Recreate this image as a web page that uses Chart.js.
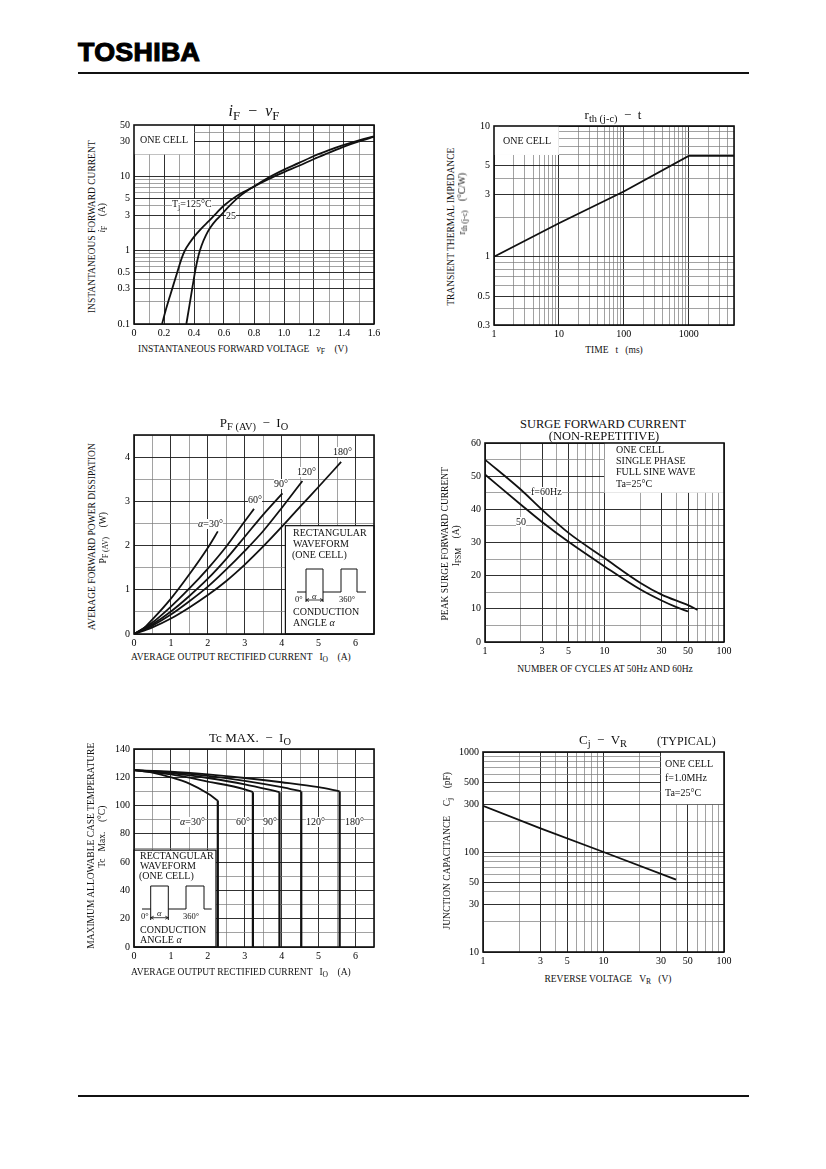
<!DOCTYPE html>
<html>
<head>
<meta charset="utf-8">
<script src="https://cdn.jsdelivr.net/npm/chart.js@4.4.0/dist/chart.umd.min.js"></script>
<style>
  body { margin: 0; background: #fff; }
  #page { position: relative; width: 826px; height: 1169px; overflow: hidden;
          font-family: "Liberation Serif", "DejaVu Serif", serif; color: #111; }
  canvas { position: absolute; }
  .t { position: absolute; white-space: nowrap; line-height: 1; font-size: 10px; z-index: 2; }
  .c { transform: translateX(-50%); }
  .rot { position: absolute; white-space: nowrap; line-height: 1; font-size: 9.5px; z-index: 2;
         transform: rotate(-90deg); transform-origin: 50% 50%; }
  .bg { background: #fff; }
  .ax { font-size: 9.5px; }
  sub { font-size: 0.8em; vertical-align: -0.3em; line-height: 0; }
  .logo { position: absolute; left: 78px; top: 39px; font-family: "Liberation Sans", Arial, sans-serif;
          font-weight: bold; font-size: 26px; line-height: 26px; letter-spacing: 0.3px;
          -webkit-text-stroke: 1.1px #000;
          transform: scaleX(1.03); transform-origin: left top; color: #000; }
  .rule { position: absolute; left: 78px; width: 671px; height: 1.5px; background: #111; }
  #deco { position: absolute; left: 0; top: 0; z-index: 3; }
</style>
</head>
<body>
<div id="page">
  <div class="logo">TOSHIBA</div>
  <div class="rule" style="top:72px"></div>
  <div class="rule" style="top:1095px"></div>

  <canvas id="ifChart"></canvas>
  <canvas id="rthChart"></canvas>
  <canvas id="pfChart"></canvas>
  <canvas id="surgeChart"></canvas>
  <canvas id="tcChart"></canvas>
  <canvas id="cjChart"></canvas>

  <!-- iF - vF -->
  <div class="t c" style="left:254px;top:103px;font-size:16px"><i>i</i><sub>F</sub> &nbsp;−&nbsp; <i>v</i><sub>F</sub></div>
  <div class="t" style="left:140px;top:135px">ONE CELL</div>
  <div class="t bg" style="left:172px;top:199px">T<sub>j</sub>=125°C</div>
  <div class="t bg" style="left:226px;top:211px">25</div>
  <div class="rot" data-cx="92" data-cy="226">INSTANTANEOUS FORWARD CURRENT</div>
  <div class="rot" data-cx="103" data-cy="218"><i>i</i><sub>F</sub> &nbsp;&nbsp;&nbsp;(A)</div>
  <div class="t ax" style="left:138px;top:345px">INSTANTANEOUS FORWARD VOLTAGE &nbsp;&nbsp;<i>v</i><sub>F</sub> &nbsp;&nbsp;&nbsp;(V)</div>

  <!-- rth - t -->
  <div class="t c" style="left:613px;top:108px;font-size:13px">r<sub>th (j-c)</sub> &nbsp;−&nbsp; t</div>
  <div class="t" style="left:503px;top:136px">ONE CELL</div>
  <div class="rot" data-cx="452" data-cy="227">TRANSIENT THERMAL IMPEDANCE</div>
  <div class="rot" data-cx="463" data-cy="204">r<sub>th (j-c)</sub> &nbsp;&nbsp;&nbsp;(°C/W)</div>
  <div class="t ax c" style="left:614px;top:346px">TIME &nbsp;&nbsp;t &nbsp;&nbsp;(ms)</div>

  <!-- PF(AV) - IO -->
  <div class="t c" style="left:254px;top:416px;font-size:13px">P<sub>F (AV)</sub> &nbsp;−&nbsp; I<sub>O</sub></div>
  <div class="t bg" style="left:198px;top:519px"><i>α</i>=30°</div>
  <div class="t bg" style="left:248px;top:495px">60°</div>
  <div class="t bg" style="left:274px;top:479px">90°</div>
  <div class="t bg" style="left:297px;top:467px">120°</div>
  <div class="t bg" style="left:333px;top:447px">180°</div>
  <div class="t" style="left:293px;top:528px">RECTANGULAR</div>
  <div class="t" style="left:293px;top:539px">WAVEFORM</div>
  <div class="t" style="left:292px;top:550px">(ONE CELL)</div>
  <div class="t" style="left:295px;top:595px;font-size:8.5px">0°</div>
  <div class="t" style="left:312px;top:592px;font-size:8.5px"><i>α</i></div>
  <div class="t" style="left:339px;top:595px;font-size:8.5px">360°</div>
  <div class="t" style="left:293px;top:607px">CONDUCTION</div>
  <div class="t" style="left:293px;top:618px">ANGLE <i>α</i></div>
  <div class="rot" data-cx="92" data-cy="536">AVERAGE FORWARD POWER DISSIPATION</div>
  <div class="rot" data-cx="103" data-cy="537">P<sub>F (AV)</sub> &nbsp;&nbsp;&nbsp;(W)</div>
  <div class="t ax" style="left:131px;top:653px">AVERAGE OUTPUT RECTIFIED CURRENT &nbsp;&nbsp;I<sub>O</sub> &nbsp;&nbsp;&nbsp;(A)</div>

  <!-- Surge -->
  <div class="t c" style="left:603px;top:418px;font-size:12.5px">SURGE FORWARD CURRENT</div>
  <div class="t c" style="left:604px;top:430px;font-size:12.5px">(NON-REPETITIVE)</div>
  <div class="t" style="left:616px;top:445px">ONE CELL</div>
  <div class="t" style="left:616px;top:456px">SINGLE PHASE</div>
  <div class="t" style="left:616px;top:467px">FULL SINE WAVE</div>
  <div class="t" style="left:616px;top:479px">Ta=25°C</div>
  <div class="t bg" style="left:531px;top:487px">f=60Hz</div>
  <div class="t bg" style="left:516px;top:517px">50</div>
  <div class="rot" data-cx="445" data-cy="543">PEAK SURGE FORWARD CURRENT</div>
  <div class="rot" data-cx="456" data-cy="545">I<sub>FSM</sub> &nbsp;&nbsp;&nbsp;(A)</div>
  <div class="t ax c" style="left:605px;top:665px">NUMBER OF CYCLES AT 50Hz AND 60Hz</div>

  <!-- Tc MAX - IO -->
  <div class="t c" style="left:250px;top:731px;font-size:13px">Tc MAX. &nbsp;−&nbsp; I<sub>O</sub></div>
  <div class="t bg" style="left:180px;top:817px"><i>α</i>=30°</div>
  <div class="t bg" style="left:236px;top:817px">60°</div>
  <div class="t bg" style="left:263px;top:817px">90°</div>
  <div class="t bg" style="left:306px;top:817px">120°</div>
  <div class="t bg" style="left:345px;top:817px">180°</div>
  <div class="t" style="left:140px;top:851px">RECTANGULAR</div>
  <div class="t" style="left:140px;top:861px">WAVEFORM</div>
  <div class="t" style="left:139px;top:871px">(ONE CELL)</div>
  <div class="t" style="left:141px;top:912px;font-size:8.5px">0°</div>
  <div class="t" style="left:157px;top:909px;font-size:8.5px"><i>α</i></div>
  <div class="t" style="left:183px;top:912px;font-size:8.5px">360°</div>
  <div class="t" style="left:140px;top:925px">CONDUCTION</div>
  <div class="t" style="left:140px;top:935px">ANGLE <i>α</i></div>
  <div class="rot" data-cx="92" data-cy="846">MAXIMUM ALLOWABLE CASE TEMPERATURE</div>
  <div class="rot" data-cx="103" data-cy="837">Tc &nbsp;&nbsp;Max. &nbsp;&nbsp;&nbsp;(°C)</div>
  <div class="t ax" style="left:131px;top:968px">AVERAGE OUTPUT RECTIFIED CURRENT &nbsp;&nbsp;I<sub>O</sub> &nbsp;&nbsp;&nbsp;(A)</div>

  <!-- Cj - VR -->
  <div class="t c" style="left:603px;top:733px;font-size:13px">C<sub>j</sub> &nbsp;−&nbsp; V<sub>R</sub></div>
  <div class="t" style="left:657px;top:735px;font-size:12px">(TYPICAL)</div>
  <div class="t" style="left:665px;top:759px">ONE CELL</div>
  <div class="t" style="left:665px;top:773px">f=1.0MHz</div>
  <div class="t" style="left:665px;top:788px">Ta=25°C</div>
  <div class="rot" data-cx="448" data-cy="851">JUNCTION CAPACITANCE &nbsp;&nbsp;&nbsp;C<sub>j</sub> &nbsp;&nbsp;&nbsp;(pF)</div>
  <div class="t ax c" style="left:608px;top:975px">REVERSE VOLTAGE &nbsp;&nbsp;V<sub>R</sub> &nbsp;&nbsp;(V)</div>

  <!-- waveform sketches inside the info boxes -->
  <svg id="deco" width="826" height="1169" fill="none" stroke="#111" stroke-width="1">
    <polyline points="297,592 306,592 306,569 323,569 323,592 341,592 341,569 357,569 357,592 366,592"/>
    <line x1="306" y1="592" x2="306" y2="602"/><line x1="323" y1="592" x2="323" y2="602"/>
    <line x1="306" y1="600" x2="323" y2="600" stroke-width="0.8"/>
    <polyline points="309,598.5 306,600 309,601.5" stroke-width="0.8"/>
    <polyline points="320,598.5 323,600 320,601.5" stroke-width="0.8"/>
    <polyline points="142,909 150.7,909 150.7,886 168.3,886 168.3,909 186,909 186,886 204,886 204,909 211.7,909"/>
    <line x1="150.7" y1="909" x2="150.7" y2="920"/><line x1="168.3" y1="909" x2="168.3" y2="920"/>
    <line x1="150.7" y1="917.7" x2="168.3" y2="917.7" stroke-width="0.8"/>
    <polyline points="153.7,916.2 150.7,917.7 153.7,919.2" stroke-width="0.8"/>
    <polyline points="165.3,916.2 168.3,917.7 165.3,919.2" stroke-width="0.8"/>
  </svg>
</div>

<script>
// ---- data ----
// iF - vF (A vs V), two junction temperatures
const vf125 = [0.187, 0.21, 0.24, 0.27, 0.30, 0.32, 0.34, 0.37, 0.40, 0.45, 0.50, 0.55, 0.60, 0.70, 0.80, 0.90, 1.00, 1.10, 1.20, 1.30, 1.40, 1.50, 1.60];
const if125 = [0.1, 0.15, 0.24, 0.38, 0.6, 0.8, 1.0, 1.25, 1.52, 1.98, 2.5, 3.2, 4.05, 5.7, 7.3, 9.3, 11.5, 14, 17.3, 21, 25.5, 30, 34.5];
const vf25 = [0.349, 0.37, 0.39, 0.41, 0.43, 0.45, 0.48, 0.51, 0.55, 0.58, 0.62, 0.70, 0.80, 0.90, 1.00, 1.10, 1.20, 1.30, 1.40, 1.50, 1.60];
const if25 = [0.1, 0.18, 0.32, 0.55, 0.85, 1.15, 1.6, 2.05, 2.6, 3.0, 3.7, 5.3, 7.35, 9.8, 12.4, 15.3, 19, 22.8, 26.8, 31, 35];

// rth(j-c) - t
const rthTime = [1, 10, 100, 1000, 5000];
const rthValue = [1, 1.8, 3.15, 5.9, 5.9];

// PF(AV) - IO, per conduction angle
const pfI30 = [0, 0.25, 0.5, 1, 1.5, 2, 2.27];
const pfW30 = [0, 0.12, 0.33, 0.8, 1.35, 1.95, 2.32];
const pfI60 = [0, 0.5, 1, 1.5, 2, 2.5, 3, 3.25];
const pfW60 = [0, 0.26, 0.62, 1.03, 1.48, 1.98, 2.55, 2.83];
const pfI90 = [0, 0.5, 1, 1.5, 2, 2.5, 3, 3.5, 4.02];
const pfW90 = [0, 0.22, 0.51, 0.86, 1.25, 1.7, 2.2, 2.7, 3.18];
const pfI120 = [0, 0.5, 1, 1.5, 2, 2.5, 3, 3.5, 4, 4.56];
const pfW120 = [0, 0.19, 0.44, 0.74, 1.07, 1.46, 1.88, 2.33, 2.85, 3.46];
const pfI180 = [0, 0.5, 1, 1.5, 2, 2.5, 3, 3.5, 4, 4.5, 5, 5.61];
const pfW180 = [0, 0.15, 0.35, 0.6, 0.88, 1.2, 1.57, 1.98, 2.42, 2.88, 3.33, 3.89];

// surge forward current vs number of cycles
const surgeCycles60 = [1, 2, 3, 5, 10, 20, 30, 50, 60];
const surge60 = [55, 45.9, 39.9, 32.9, 25.3, 17.8, 14.3, 11.1, 9.7];
const surgeCycles50 = [1, 2, 3, 5, 10, 20, 30, 40, 50];
const surge50 = [50.5, 41.4, 36.2, 30.2, 22.8, 15.8, 12.5, 10.5, 9.2];

// Tc max - IO, per conduction angle
const tcI30 = [0, 0.5, 1, 1.5, 2, 2.27];
const tcT30 = [125, 123.3, 120, 115.5, 108.5, 103.5];
const tcI60 = [0, 1, 2, 3, 3.22];
const tcT60 = [125, 122, 117, 111.5, 109.5];
const tcI90 = [0, 1, 2, 3, 3.94];
const tcT90 = [125, 123, 119.5, 115, 109.5];
const tcI120 = [0, 1, 2, 3, 4, 4.53];
const tcT120 = [125, 123.5, 121, 117.5, 113, 110];
const tcI180 = [0, 1, 2, 3, 4, 5, 5.57];
const tcT180 = [125, 124, 122, 119.5, 116.5, 113, 110];

// Cj - VR
const cjVoltage = [1, 3, 10, 40];
const cjValue = [290, 172, 100, 53];

// ---- tick labels ----
const ifXLabels = [0, 0.2, 0.4, 0.6, 0.8, 1.0, 1.2, 1.4, 1.6];
const ifYLabels = [0.1, 0.3, 0.5, 1, 3, 5, 10, 30, 50];
const rthXLabels = [1, 10, 100, 1000];
const rthYLabels = [0.3, 0.5, 1, 3, 5, 10];
const ampLabels = [0, 1, 2, 3, 4, 5, 6];
const pfYLabels = [0, 1, 2, 3, 4];
const cycleLabels = [1, 3, 5, 10, 30, 50, 100];
const surgeYLabels = [0, 10, 20, 30, 40, 50, 60];
const tcYLabels = [0, 20, 40, 60, 80, 100, 120, 140];
const cjXLabels = [1, 3, 5, 10, 30, 50, 100];
const cjYLabels = [10, 30, 50, 100, 300, 500, 1000];

const SERIF = '"Liberation Serif", "DejaVu Serif", serif';
const INK = '#111';
const PAD_L = 36, PAD_T = 8, PAD_R = 14, PAD_B = 18;

const clean = v => Number(v.toPrecision(6));

// grid lines every `step` between min and max
function linearGrid(min, max, step) {
  const out = [];
  for (let v = min; v <= max + step / 1000; v += step) out.push(clean(v));
  return out;
}

// log grid: 1..9 x 10^n inside [min, max]
function logGrid(min, max) {
  const out = [];
  for (let e = Math.floor(Math.log10(min)); e <= Math.ceil(Math.log10(max)); e++) {
    for (let m = 1; m <= 9; m++) {
      const v = clean(m * Math.pow(10, e));
      if (v >= min - 1e-12 && v <= max + 1e-9) out.push(v);
    }
  }
  return out;
}

const xy = (xs, ys) => xs.map((x, i) => ({ x, y: ys[i] }));

function axis(pos, type, min, max, gridAt, labelAt, fmt) {
  const isLabel = v => labelAt.some(l => Math.abs(l - v) <= 1e-9 * Math.max(1, Math.abs(l)));
  return {
    type, position: pos, min, max, bounds: 'data',
    border: { display: false },
    grid: {
      drawTicks: false,
      color: c => isLabel(c.tick.value) ? '#1a1a1a' : '#7a7a7a',
      lineWidth: c => isLabel(c.tick.value) ? 0.9 : 0.7
    },
    ticks: {
      autoSkip: false, maxRotation: 0, minRotation: 0,
      padding: pos === 'left' ? 4 : 3,
      color: '#000', font: { family: SERIF, size: 10 },
      callback: v => isLabel(v) ? (fmt ? fmt(v) : String(v)) : ''
    },
    afterBuildTicks: s => { s.ticks = gridAt.map(v => ({ value: v })); },
    afterFit: s => {
      if (pos === 'left') { s.width = PAD_L; s.paddingTop = 0; s.paddingBottom = 0; }
      else { s.height = PAD_B; s.paddingLeft = 0; s.paddingRight = 0; }
    }
  };
}

function curve(data, extra) {
  return Object.assign({
    data, borderColor: INK, borderWidth: 1.8, pointRadius: 0,
    cubicInterpolationMode: 'monotone', fill: false
  }, extra || {});
}

// white panels for the note boxes, and the frame round the plot
const panelPlugin = {
  id: 'panel',
  beforeDatasetsDraw(chart, args, opts) {
    const { ctx, scales: { x, y } } = chart;
    (opts.boxes || []).forEach(b => {
      const l = x.getPixelForValue(b.x0), r = x.getPixelForValue(b.x1);
      const t = y.getPixelForValue(b.y1), btm = y.getPixelForValue(b.y0);
      ctx.save();
      ctx.fillStyle = '#fff';
      ctx.fillRect(l, t, r - l, btm - t);
      if (b.border) {
        ctx.strokeStyle = INK; ctx.lineWidth = 1.2;
        ctx.strokeRect(l, t, r - l, btm - t);
      }
      ctx.restore();
    });
  },
  afterDraw(chart) {
    const { ctx, chartArea: a } = chart;
    ctx.save();
    ctx.strokeStyle = INK; ctx.lineWidth = 1.6;
    ctx.strokeRect(a.left, a.top, a.right - a.left, a.bottom - a.top);
    ctx.restore();
  }
};

function makeChart(id, area, xAxis, yAxis, datasets, boxes) {
  const cv = document.getElementById(id);
  const w = area.right - area.left + PAD_L + PAD_R;
  const h = area.bottom - area.top + PAD_T + PAD_B;
  cv.style.left = (area.left - PAD_L) + 'px';
  cv.style.top = (area.top - PAD_T) + 'px';
  cv.width = w; cv.height = h;
  cv.style.width = w + 'px'; cv.style.height = h + 'px';
  return new Chart(cv, {
    type: 'line',
    data: { datasets },
    options: {
      responsive: false, animation: false,
      layout: { padding: { left: 0, top: PAD_T, right: PAD_R, bottom: 0 } },
      plugins: { legend: { display: false }, tooltip: { enabled: false }, panel: { boxes: boxes || [] } },
      scales: { x: xAxis, y: yAxis }
    },
    plugins: [panelPlugin]
  });
}

const oneDecimal = v => v === 0 ? '0' : v.toFixed(1);

// iF - vF
makeChart('ifChart', { left: 134, top: 125, right: 374, bottom: 324 },
  axis('bottom', 'linear', 0, 1.6, linearGrid(0, 1.6, 0.1), ifXLabels, oneDecimal),
  axis('left', 'logarithmic', 0.1, 50, logGrid(0.1, 50), ifYLabels),
  [curve(xy(vf125, if125)), curve(xy(vf25, if25))],
  [{ x0: 0, x1: 0.4, y0: 20, y1: 50 }]);

// rth - t
makeChart('rthChart', { left: 494, top: 126, right: 734, bottom: 325 },
  axis('bottom', 'logarithmic', 1, 5000, logGrid(1, 5000), rthXLabels),
  axis('left', 'logarithmic', 0.3, 10, logGrid(0.3, 10), rthYLabels),
  [curve(xy(rthTime, rthValue), { cubicInterpolationMode: 'default', tension: 0 })],
  [{ x0: 1, x1: 10, y0: 6, y1: 10 }]);

// PF(AV) - IO
makeChart('pfChart', { left: 134, top: 435, right: 374, bottom: 634 },
  axis('bottom', 'linear', 0, 6.5, linearGrid(0, 6.5, 0.5), ampLabels),
  axis('left', 'linear', 0, 4.5, linearGrid(0, 4.5, 0.5), pfYLabels),
  [curve(xy(pfI30, pfW30)), curve(xy(pfI60, pfW60)), curve(xy(pfI90, pfW90)),
   curve(xy(pfI120, pfW120)), curve(xy(pfI180, pfW180))],
  [{ x0: 4.1, x1: 6.5, y0: 0, y1: 2.45, border: true }]);

// surge
makeChart('surgeChart', { left: 485, top: 443, right: 724, bottom: 642 },
  axis('bottom', 'logarithmic', 1, 100, logGrid(1, 100), cycleLabels),
  axis('left', 'linear', 0, 60, linearGrid(0, 60, 5), surgeYLabels),
  [curve(xy(surgeCycles60, surge60)), curve(xy(surgeCycles50, surge50))],
  [{ x0: 10, x1: 100, y0: 45, y1: 60 }]);

// Tc max - IO: each curve ends in a vertical drop to 0
const tcSets = [[tcI30, tcT30], [tcI60, tcT60], [tcI90, tcT90], [tcI120, tcT120], [tcI180, tcT180]];
const tcDatasets = [];
tcSets.forEach(([xs, ys]) => {
  tcDatasets.push(curve(xy(xs, ys)));
  const last = xs.length - 1;
  tcDatasets.push(curve([{ x: xs[last], y: ys[last] }, { x: xs[last], y: 0 }],
    { cubicInterpolationMode: 'default', tension: 0, borderWidth: 2.2 }));
});
makeChart('tcChart', { left: 134, top: 749, right: 374, bottom: 947 },
  axis('bottom', 'linear', 0, 6.5, linearGrid(0, 6.5, 0.5), ampLabels),
  axis('left', 'linear', 0, 140, linearGrid(0, 140, 10), tcYLabels),
  tcDatasets,
  [{ x0: 0, x1: 2.22, y0: 0, y1: 68.5, border: true }]);

// Cj - VR
makeChart('cjChart', { left: 483, top: 752, right: 724, bottom: 952 },
  axis('bottom', 'logarithmic', 1, 100, logGrid(1, 100), cjXLabels),
  axis('left', 'logarithmic', 10, 1000, logGrid(10, 1000), cjYLabels),
  [curve(xy(cjVoltage, cjValue), { cubicInterpolationMode: 'default', tension: 0 })],
  [{ x0: 30, x1: 100, y0: 300, y1: 1000 }]);

// place the rotated axis titles on whole pixels round their centres
document.querySelectorAll('.rot').forEach(el => {
  const w = el.offsetWidth, h = el.offsetHeight;
  const cx = +el.dataset.cx, cy = +el.dataset.cy;
  const boxLeft = Math.round(cx - h / 2), boxTop = Math.round(cy - w / 2);
  el.style.left = (boxLeft - w / 2 + h / 2) + 'px';
  el.style.top = (boxTop - h / 2 + w / 2) + 'px';
});
</script>
</body>
</html>
